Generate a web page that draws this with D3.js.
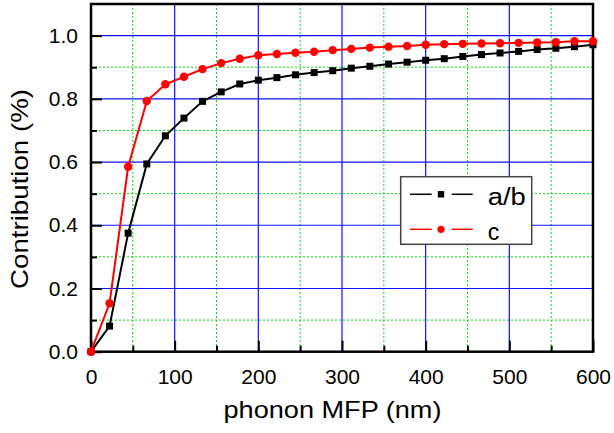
<!DOCTYPE html>
<html>
<head>
<meta charset="utf-8">
<title>Contribution vs phonon MFP</title>
<script src="https://d3js.org/d3.v7.min.js"></script>
<style>
  body { margin: 0; background: #fff; }
  svg { display: block; font-family: "Liberation Sans", Arial, sans-serif; }
</style>
</head>
<body>
<script>

// phonon MFP (nm) sample points
var mfp = [0, 22.2, 44.4, 66.7, 88.9, 111.1, 133.3, 155.6, 177.8, 200,
           222.2, 244.4, 266.7, 288.9, 311.1, 333.3, 355.6, 377.8, 400,
           422.2, 444.4, 466.7, 488.9, 511.1, 533.3, 555.6, 577.8, 600];

// cumulative contribution, a/b direction
var contribAB = [0, 0.081, 0.375, 0.594, 0.683, 0.739, 0.792, 0.822, 0.847, 0.859,
                 0.867, 0.876, 0.883, 0.889, 0.897, 0.903, 0.910, 0.916, 0.922,
                 0.927, 0.934, 0.940, 0.945, 0.950, 0.956, 0.960, 0.965, 0.971];

// cumulative contribution, c direction
var contribC = [0, 0.153, 0.585, 0.793, 0.846, 0.870, 0.894, 0.913, 0.927, 0.938,
                0.942, 0.946, 0.949, 0.954, 0.958, 0.962, 0.965, 0.967, 0.971,
                0.973, 0.974, 0.975, 0.976, 0.977, 0.978, 0.979, 0.982, 0.982];

var xMajor = [0, 100, 200, 300, 400, 500, 600];
var xMinor = [50, 150, 250, 350, 450, 550];
var yMajor = [0.0, 0.2, 0.4, 0.6, 0.8, 1.0];
var yMinor = [0.1, 0.3, 0.5, 0.7, 0.9];

var W = 614, H = 433;
var margin = {top: 4, left: 91, right: 21, bottom: 81.3};
var width = W - margin.left - margin.right;
var height = H - margin.top - margin.bottom;

var x = d3.scaleLinear().domain([0, 600]).range([0, width]);
var y = d3.scaleLinear().domain([0, 1.1]).range([height, 0]);

var svg = d3.select("body").append("svg")
    .attr("width", W)
    .attr("height", H);

var g = svg.append("g")
    .attr("transform", "translate(" + margin.left + "," + margin.top + ")");

// minor grid (green dotted)
g.selectAll(".gx-minor").data(xMinor).enter().append("line")
    .attr("x1", d => x(d)).attr("x2", d => x(d))
    .attr("y1", 0).attr("y2", height)
    .attr("stroke", "#00e000").attr("stroke-width", 1)
    .attr("stroke-dasharray", "2,2");
g.selectAll(".gy-minor").data(yMinor).enter().append("line")
    .attr("x1", 0).attr("x2", width)
    .attr("y1", d => y(d)).attr("y2", d => y(d))
    .attr("stroke", "#00e000").attr("stroke-width", 1)
    .attr("stroke-dasharray", "2,2");

// major grid (blue)
g.selectAll(".gx-major").data(xMajor.slice(1, -1)).enter().append("line")
    .attr("x1", d => x(d)).attr("x2", d => x(d))
    .attr("y1", 0).attr("y2", height)
    .attr("stroke", "#1010ff").attr("stroke-width", 1.2);
g.selectAll(".gy-major").data(yMajor.slice(1)).enter().append("line")
    .attr("x1", 0).attr("x2", width)
    .attr("y1", d => y(d)).attr("y2", d => y(d))
    .attr("stroke", "#1010ff").attr("stroke-width", 1.2);

// axes, ticks pointing inward
var xAxis = g.append("g")
    .attr("transform", "translate(0," + height + ")")
    .call(d3.axisBottom(x).tickValues(xMajor).tickFormat(d3.format("d"))
        .tickSizeInner(-11).tickSizeOuter(0).tickPadding(17));
var xAxisMinor = g.append("g")
    .attr("transform", "translate(0," + height + ")")
    .call(d3.axisBottom(x).tickValues(xMinor).tickFormat("")
        .tickSizeInner(-6).tickSizeOuter(0));
var yAxis = g.append("g")
    .call(d3.axisLeft(y).tickValues(yMajor).tickFormat(d3.format(".1f"))
        .tickSizeInner(-11).tickSizeOuter(0).tickPadding(13));
var yAxisMinor = g.append("g")
    .call(d3.axisLeft(y).tickValues(yMinor).tickFormat("")
        .tickSizeInner(-6).tickSizeOuter(0));

[xAxis, xAxisMinor, yAxis, yAxisMinor].forEach(function(a) {
    a.select(".domain").remove();
    a.selectAll(".tick line").attr("stroke", "#000").attr("stroke-width", 2);
    a.selectAll(".tick text").attr("fill", "#000")
        .style("font-size", "21px")
        .style("font-family", "'Liberation Sans', Arial, sans-serif");
});

// frame
g.append("rect")
    .attr("x", 0).attr("y", 0)
    .attr("width", width).attr("height", height)
    .attr("fill", "none").attr("stroke", "#000").attr("stroke-width", 2.5);

// series
var lineAB = d3.line().x((d, i) => x(mfp[i])).y(d => y(d));

g.append("path").datum(contribAB)
    .attr("d", lineAB)
    .attr("fill", "none").attr("stroke", "#000").attr("stroke-width", 2);
g.selectAll(".sq").data(contribAB).enter().append("rect")
    .attr("x", (d, i) => x(mfp[i]) - 3.5)
    .attr("y", d => y(d) - 3.5)
    .attr("width", 7).attr("height", 7)
    .attr("fill", "#000");

g.append("path").datum(contribC)
    .attr("d", lineAB)
    .attr("fill", "none").attr("stroke", "#ff0000").attr("stroke-width", 2);
g.selectAll(".dot").data(contribC).enter().append("circle")
    .attr("cx", (d, i) => x(mfp[i]))
    .attr("cy", d => y(d))
    .attr("r", 4.2)
    .attr("fill", "#ff0000");

// axis titles
svg.append("text")
    .attr("x", 332.5).attr("y", 418)
    .attr("text-anchor", "middle")
    .attr("textLength", 218).attr("lengthAdjust", "spacingAndGlyphs")
    .style("font-size", "24px")
    .text("phonon MFP (nm)");

svg.append("text")
    .attr("transform", "translate(27.5,189) rotate(-90)")
    .attr("text-anchor", "middle")
    .attr("textLength", 200).attr("lengthAdjust", "spacingAndGlyphs")
    .style("font-size", "24px")
    .text("Contribution (%)");

// legend
var leg = svg.append("g");
leg.append("rect")
    .attr("x", 400.7).attr("y", 176.7)
    .attr("width", 131).attr("height", 67.6)
    .attr("fill", "#fff").attr("stroke", "#444").attr("stroke-width", 1.5);

var legendItems = [
    {label: "a/b", color: "#000", shape: "square"},
    {label: "c", color: "#ff0000", shape: "circle"}
];
legendItems.forEach(function(item, k) {
    var cy = 194.3 + k * 35;
    leg.append("line").attr("x1", 410).attr("x2", 431.7)
        .attr("y1", cy).attr("y2", cy)
        .attr("stroke", item.color).attr("stroke-width", 1.5);
    leg.append("line").attr("x1", 451.7).attr("x2", 472.7)
        .attr("y1", cy).attr("y2", cy)
        .attr("stroke", item.color).attr("stroke-width", 1.5);
    if (item.shape === "square") {
        leg.append("rect").attr("x", 441 - 3.2).attr("y", cy - 3.2)
            .attr("width", 6.4).attr("height", 6.4).attr("fill", item.color);
    } else {
        leg.append("circle").attr("cx", 441).attr("cy", cy).attr("r", 3.6)
            .attr("fill", item.color);
    }
    var t = leg.append("text")
        .attr("x", 487.7).attr("y", cy + 10.5)
        .style("font-size", "23px")
        .text(item.label);
    if (item.label === "a/b") t.attr("textLength", 38).attr("lengthAdjust", "spacingAndGlyphs");
});

</script>
</body>
</html>
